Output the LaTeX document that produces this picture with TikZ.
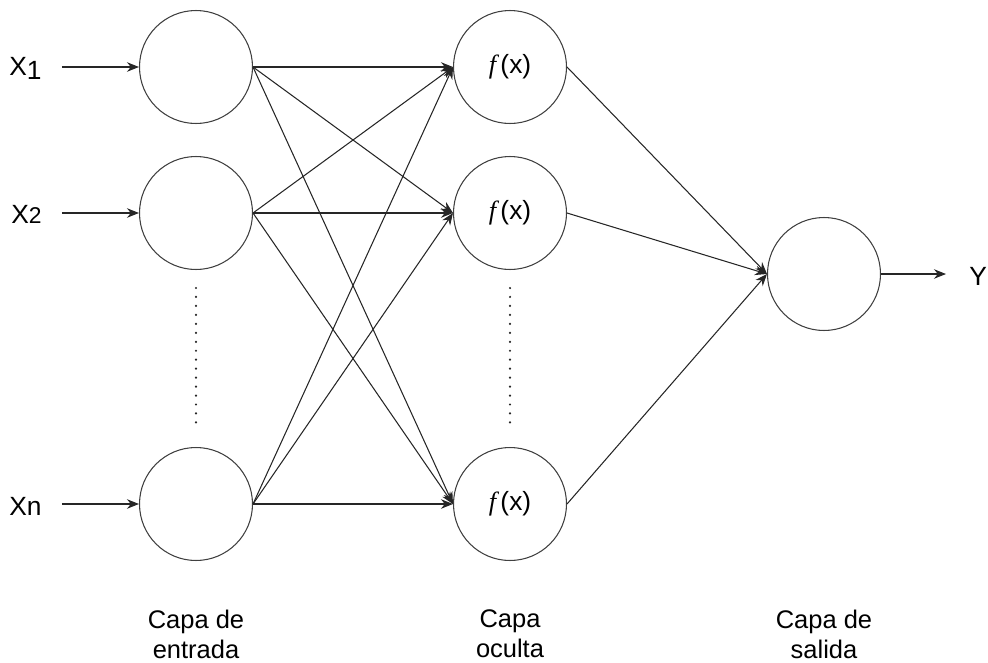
\documentclass[tikz,border=0pt]{standalone}
\usepackage{fontspec}
\setmainfont{Liberation Sans}
\newfontfamily\fserif{Liberation Serif}
\usetikzlibrary{arrows.meta}

\begin{document}
\begin{tikzpicture}[x=0.02cm, y=-0.02cm,
	neuron/.style={circle, draw=black!75, line width=0.6pt, minimum size=2.26cm, inner sep=0pt},
	conn/.style={draw=black!85, line width=0.6pt, -{Stealth[length=2.4mm, width=1.9mm]}},
	dots/.style={draw=black!85, line width=1.4pt, line cap=round, dash pattern=on 0pt off 5.1pt},
	lbl/.style={inner sep=0pt, font=\fontsize{15}{18}\selectfont},
	layer/.style={align=center, inner sep=0pt, font=\fontsize{14.5}{17}\selectfont}]
	\useasboundingbox (0,0) rectangle (988,663);

	\foreach \n/\y in {1/67, 2/213, 3/504} {
		\node[neuron] (in\n) at (196,\y) {};
		\node[neuron, font=\fontsize{15}{17}\selectfont] (hid\n) at (510,\y) {{\fserif\itshape f\,}(x)};
	}
	\node[neuron] (out) at (824,274) {};

	\node[lbl, anchor=base east] (x1) at (42,75) {X\raisebox{-0.3ex}{1}};
	\node[lbl, anchor=base east] (x2) at (42,223) {X{\fontsize{13}{16}\selectfont 2}};
	\node[lbl, anchor=base east] (x3) at (42,515) {Xn};
	\node[lbl, anchor=base west] (y) at (969,285) {Y};

	\foreach \n in {1,2,3} {
		\draw[conn, shorten <=0.4cm] (in\n.west -| x\n.east) -- (in\n.west);
		\foreach \m in {1,2,3}
			\draw[conn] (in\n.east) -- (hid\m.west);
		\draw[conn] (hid\n.east) -- (out.west);
	}
	\draw[conn, shorten >=0.46cm] (out.east) -- (out.east -| y.west);

	\draw[dots, shorten <=0.36cm, shorten >=0.34cm] (in2.south) -- (in3.north);
	\draw[dots, shorten <=0.36cm, shorten >=0.34cm] (hid2.south) -- (hid3.north);

	\node[layer] (l1) at (196,634) {Capa de\\entrada};
	\node[layer] (l2) at (510,634) {Capa\\oculta};
	\node[layer] (l3) at (824,634) {Capa de\\salida};
\end{tikzpicture}
\end{document}
